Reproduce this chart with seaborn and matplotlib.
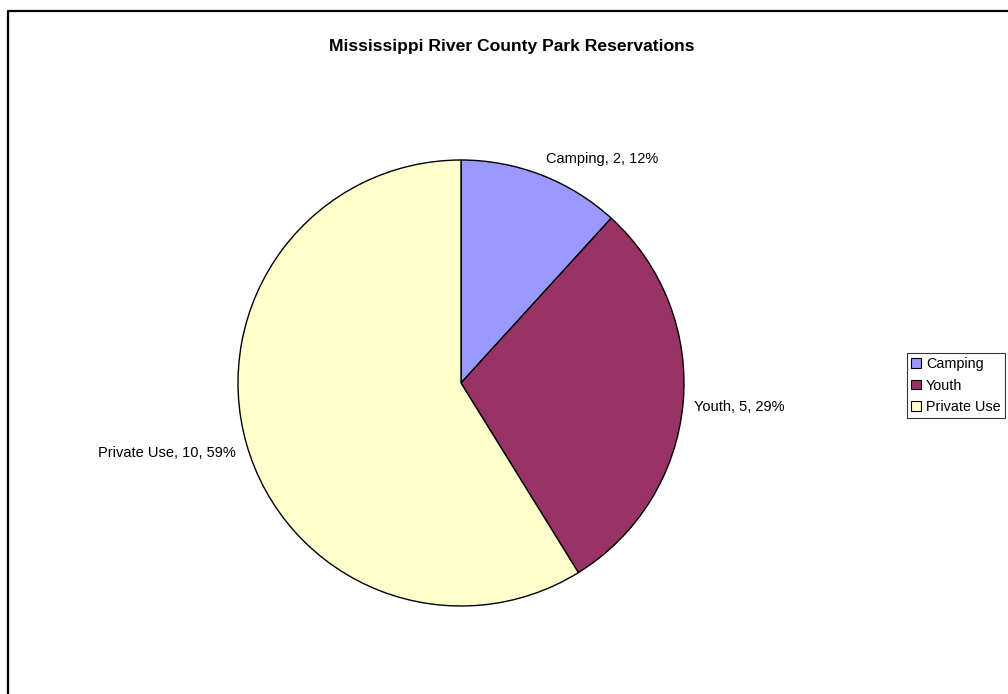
import matplotlib
matplotlib.use("Agg")
import matplotlib.pyplot as plt
from matplotlib.lines import Line2D
from matplotlib.patches import Patch
import seaborn as sns

sns.set_style("white")
plt.rcParams['font.family'] = ['Liberation Sans', 'DejaVu Sans']
plt.rcParams['text.color'] = 'black'

categories = ["Camping", "Youth", "Private Use"]
values = [2, 5, 10]
colors = ["#9999FF", "#993366", "#FFFFCC"]
title = "Mississippi River County Park Reservations"

total = sum(values)
labels = [f"{c}, {v}, {round(v / total * 100)}%" for c, v in zip(categories, values)]

W, H = 1008, 694
fig = plt.figure(figsize=(W / 100, H / 100), dpi=100)
fig.patch.set_facecolor("white")

cx, cy, r = 461, 383, 223
ax = fig.add_axes([(cx - r) / W, (H - cy - r) / H, 2 * r / W, 2 * r / H])
wedges, texts = ax.pie(values, labels=labels, colors=colors, startangle=90,
                       counterclock=False, labeldistance=1.05,
                       wedgeprops=dict(edgecolor="black", linewidth=1.0),
                       textprops=dict(fontsize=10.5, color="black"))
# small vertical nudges of the label texts (in radius units) to match layout
nudges = [0.025, -0.01, -0.025]
for t, dy in zip(texts, nudges):
    x, y = t.get_position()
    t.set_position((x, y + dy))
ax.set_xlim(-1, 1)
ax.set_ylim(-1, 1)
ax.set_aspect("equal")
ax.axis("off")

fig.text(512 / W, 1 - 47 / H, title, ha="center", va="center",
         fontsize=12.6, fontweight="bold", color="black")

handles = [Patch(facecolor=c, edgecolor="black", linewidth=0.8) for c in colors]
leg = fig.legend(handles, categories, loc="upper left",
                 bbox_to_anchor=(907 / W, 1 - 353 / H), frameon=True,
                 fontsize=10.4, fancybox=False, shadow=False, labelcolor="black",
                 handlelength=0.65, handleheight=0.65, handletextpad=0.35,
                 borderpad=0.3, labelspacing=0.5, borderaxespad=0)
leg.get_frame().set_edgecolor("black")
leg.get_frame().set_linewidth(0.8)

fig.add_artist(Line2D([7.5 / W, 7.5 / W, 1.0], [0, 1 - 11 / H, 1 - 11 / H],
                      transform=fig.transFigure, color="black", linewidth=1.6))

fig.savefig("out.png", dpi=100, facecolor="white")
